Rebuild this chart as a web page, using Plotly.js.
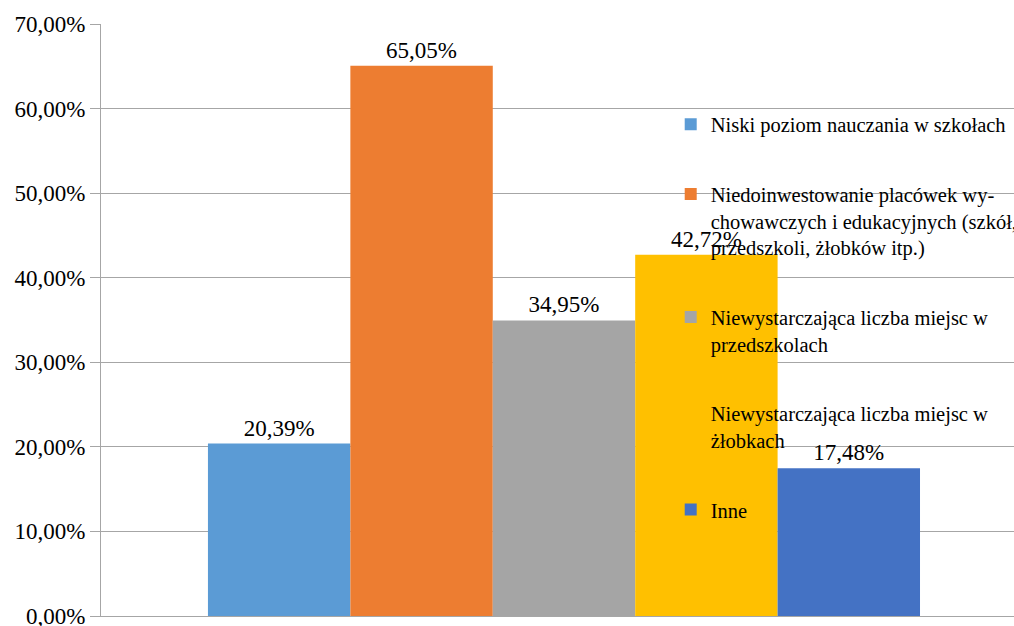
<!DOCTYPE html>
<html>
<head>
<meta charset="utf-8">
<script src="https://cdn.plot.ly/plotly-3.0.1.min.js"></script>
<style>html,body{margin:0;padding:0;background:#fff;}#chart{width:1014px;height:626px;}</style>
</head>
<body>
<div id="chart"></div>
<script>
const categories = ['Przyczyny'];
const seriesNames = [
  'Niski poziom nauczania w szkołach',
  'Niedoinwestowanie placówek wy-<br>chowawczych i edukacyjnych (szkół,<br>przedszkoli, żłobków itp.)',
  'Niewystarczająca liczba miejsc w<br>przedszkolach',
  'Niewystarczająca liczba miejsc w<br>żłobkach',
  'Inne'
];
const seriesValues = [0.2039, 0.6505, 0.3495, 0.4272, 0.1748];
const seriesColors = ['#5B9BD5', '#ED7D31', '#A5A5A5', '#FFC000', '#4472C4'];
const yTickValues = [0, 0.1, 0.2, 0.3, 0.4, 0.5, 0.6, 0.7];

const FONT = 'Liberation Serif, Times New Roman, serif';

const traces = seriesNames.map((name, i) => ({
  type: 'bar',
  name: name,
  x: categories,
  y: [seriesValues[i]],
  marker: {color: seriesColors[i]},
  texttemplate: '%{y:.2%}',
  textposition: 'outside',
  textfont: {family: FONT, size: 23, color: '#000'},
  constraintext: 'none',
  cliponaxis: false,
  legendgroup: 'g' + i,
  hoverinfo: 'skip'
}));

const layout = {
  width: 1014,
  height: 626,
  margin: {l: 101, r: 0, t: 24, b: 10, autoexpand: false},
  paper_bgcolor: '#fff',
  plot_bgcolor: '#fff',
  separators: ', ',
  font: {family: FONT, size: 23, color: '#000'},
  barmode: 'group',
  bargap: 0.231,
  bargroupgap: 0,
  showlegend: true,
  legend: {
    x: 0.624, y: 0.864, xanchor: 'left', yanchor: 'top',
    bgcolor: 'rgba(0,0,0,0)',
    font: {family: FONT, size: 20.5, color: '#000'},
    tracegroupgap: 40,
    valign: 'top',
    traceorder: 'grouped'
  },
  xaxis: {
    type: 'category',
    range: [-0.5, 0.486],
    showticklabels: false,
    showline: true,
    linecolor: '#a6a6a6',
    linewidth: 1,
    ticks: '',
    showgrid: false,
    zeroline: false,
    fixedrange: true
  },
  yaxis: {
    range: [0, 0.7],
    tickvals: yTickValues,
    tickformat: '.2%',
    showline: true,
    linecolor: '#a6a6a6',
    linewidth: 1,
    ticks: 'outside',
    ticklen: 10,
    tickcolor: '#a6a6a6',
    showgrid: true,
    gridcolor: '#a6a6a6',
    gridwidth: 1,
    zeroline: false,
    ticklabeloverflow: 'allow',
    tickfont: {family: FONT, size: 23, color: '#000'},
    fixedrange: true
  }
};

Plotly.newPlot('chart', traces, layout, {staticPlot: true, displayModeBar: false});
</script>
</body>
</html>
